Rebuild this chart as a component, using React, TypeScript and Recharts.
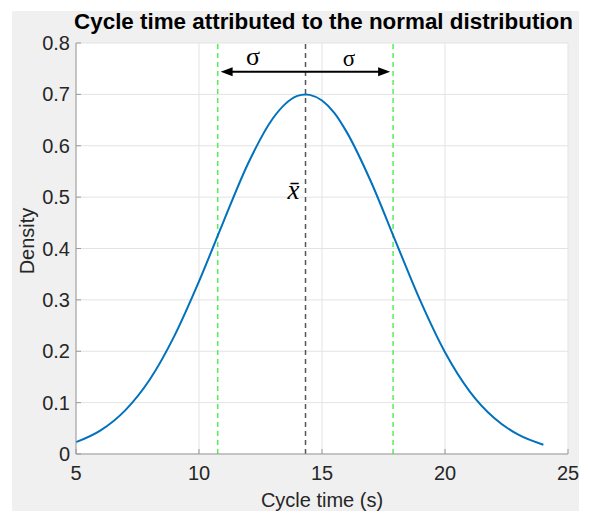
import React from "react";
import {
  LineChart,
  Line,
  XAxis,
  YAxis,
  CartesianGrid,
  ReferenceLine,
  ReferenceDot,
} from "recharts";

// values
const cycleTime = [5, 6, 7, 8, 9, 10, 11, 12, 13, 13.5, 14, 14.33, 14.5, 15, 15.5, 16, 17, 18, 19, 20, 21, 22, 23, 24];
const density = [0.023, 0.046, 0.085, 0.145, 0.23, 0.336, 0.453, 0.566, 0.653, 0.681, 0.697, 0.7, 0.699, 0.688, 0.664, 0.627, 0.529, 0.413, 0.298, 0.198, 0.122, 0.07, 0.037, 0.018];

const xTicks = [5, 10, 15, 20, 25];
const yTicks = [0, 0.1, 0.2, 0.3, 0.4, 0.5, 0.6, 0.7, 0.8];

const meanX = 14.33;
const sigmaLines = [10.76, 17.89];
const arrowSpan = [10.88, 17.77];
const arrowY = 0.744;
const sigmaLabels = [
  { x: 12.2, y: 0.773, text: "σ", size: 26 },
  { x: 16.1, y: 0.769, text: "σ", size: 23 },
];
const meanLabel = { x: 13.84, y: 0.514, text: "x\u0304" };

const chartData = cycleTime.map((t, i) => ({ t, d: density[i] }));

const TEXT = "#262626";
const AXIS = "#9a9a9a";
const FONT = "'Liberation Sans', Arial, sans-serif";
const SERIF = "'Liberation Serif', 'DejaVu Serif', serif";

const BottomTick = (props: any) => {
  const { x, y, payload } = props;
  return (
    <g>
      <line x1={x} x2={x} y1={y} y2={y - 5} stroke={AXIS} />
      <text x={x} y={y + 26} textAnchor="middle" fill={TEXT} fontSize={20} fontFamily={FONT}>
        {payload.value}
      </text>
    </g>
  );
};

const LeftTick = (props: any) => {
  const { x, y, payload } = props;
  return (
    <g>
      <line x1={x} x2={x + 5} y1={y} y2={y} stroke={AXIS} />
      <text x={x - 6} y={y + 7} textAnchor="end" fill={TEXT} fontSize={20} fontFamily={FONT}>
        {payload.value}
      </text>
    </g>
  );
};

const TopTick = (props: any) => {
  const { x, y } = props;
  return <line x1={x} x2={x} y1={y} y2={y + 5} stroke={AXIS} />;
};

const RightTick = (props: any) => {
  const { x, y } = props;
  return <line x1={x} x2={x - 5} y1={y} y2={y} stroke={AXIS} />;
};

const DoubleArrow = (props: any) => {
  const { x1, x2, y1 } = props;
  const head = 12;
  const half = 4.5;
  return (
    <g>
      <line x1={x1 + head - 2} x2={x2 - head + 2} y1={y1} y2={y1} stroke="#000" strokeWidth={2.2} />
      <polygon points={`${x1},${y1} ${x1 + head},${y1 - half} ${x1 + head},${y1 + half}`} fill="#000" />
      <polygon points={`${x2},${y1} ${x2 - head},${y1 - half} ${x2 - head},${y1 + half}`} fill="#000" />
    </g>
  );
};

export default function App() {
  return (
    <div style={{ position: "absolute", left: 0, top: 0, width: 589, height: 511, background: "#fff", overflow: "hidden" }}>
      <div style={{ position: "absolute", left: 12, top: 11, width: 567, height: 500, background: "#f0f0f0" }} />
      <div
        style={{
          position: "absolute",
          left: 0,
          top: 10,
          width: 589,
          textAlign: "center",
          paddingLeft: 58,
          boxSizing: "border-box",
          fontFamily: FONT,
          fontWeight: "bold",
          fontSize: 22.4,
          lineHeight: "24px",
          color: "#000",
          whiteSpace: "nowrap",
        }}
      >
        Cycle time attributed to the normal distribution
      </div>
      <div style={{ position: "absolute", left: 0, top: 0 }}>
        <LineChart width={589} height={511} data={chartData} margin={{ top: 43, right: 21, left: 16, bottom: 0 }}>
          <CartesianGrid stroke="#e3e3e3" fill="#fff" horizontalValues={yTicks} verticalValues={xTicks} />
          <XAxis
            dataKey="t"
            type="number"
            domain={[5, 25]}
            ticks={xTicks}
            interval={0}
            height={57}
            tickSize={0}
            tickMargin={0}
            tickLine={false}
            stroke={AXIS}
            tick={<BottomTick />}
            label={{
              content: (p: any) => (
                <text
                  x={p.viewBox.x + p.viewBox.width / 2}
                  y={507}
                  textAnchor="middle"
                  fill={TEXT}
                  fontSize={20}
                  fontFamily={FONT}
                >
                  Cycle time (s)
                </text>
              ),
            }}
          />
          <XAxis
            xAxisId="top"
            orientation="top"
            dataKey="t"
            type="number"
            domain={[5, 25]}
            ticks={xTicks}
            interval={0}
            height={0}
            tickSize={0}
            tickMargin={0}
            tickLine={false}
            stroke={AXIS}
            tick={<TopTick />}
          />
          <YAxis
            type="number"
            domain={[0, 0.8]}
            ticks={yTicks}
            interval={0}
            width={60}
            tickSize={0}
            tickMargin={0}
            tickLine={false}
            stroke={AXIS}
            tick={<LeftTick />}
            label={{
              content: () => (
                <text
                  x={27}
                  y={241}
                  transform="rotate(-90, 27, 241)"
                  textAnchor="middle"
                  dominantBaseline="central"
                  fill={TEXT}
                  fontSize={20}
                  fontFamily={FONT}
                >
                  Density
                </text>
              ),
            }}
          />
          <YAxis
            yAxisId="right"
            orientation="right"
            type="number"
            domain={[0, 0.8]}
            ticks={yTicks}
            interval={0}
            width={0}
            tickSize={0}
            tickMargin={0}
            tickLine={false}
            stroke={AXIS}
            tick={<RightTick />}
          />
          {sigmaLines.map((v) => (
            <ReferenceLine key={v} x={v} stroke="#55ee55" strokeWidth={1.5} strokeDasharray="5 4" />
          ))}
          <ReferenceLine x={meanX} stroke="#555" strokeWidth={1.5} strokeDasharray="5 4" />
          <Line
            type="monotone"
            dataKey="d"
            stroke="#0072BD"
            strokeWidth={2}
            dot={false}
            isAnimationActive={false}
          />
          <ReferenceLine
            segment={[
              { x: arrowSpan[0], y: arrowY },
              { x: arrowSpan[1], y: arrowY },
            ]}
            shape={(p: any) => <DoubleArrow {...p} />}
          />
          {sigmaLabels.map((s, i) => (
            <ReferenceDot
              key={i}
              x={s.x}
              y={s.y}
              r={1}
              shape={(p: any) => (
                <text
                  x={p.cx}
                  y={p.cy}
                  textAnchor="middle"
                  dominantBaseline="central"
                  fontSize={s.size}
                  fontFamily={SERIF}
                  fill="#000"
                >
                  {s.text}
                </text>
              )}
            />
          ))}
          <ReferenceDot
            x={meanLabel.x}
            y={meanLabel.y}
            r={1}
            shape={(p: any) => (
              <text
                x={p.cx}
                y={p.cy}
                textAnchor="middle"
                dominantBaseline="central"
                fontSize={27}
                fontStyle="italic"
                fontFamily={SERIF}
                fill="#000"
              >
                {meanLabel.text}
              </text>
            )}
          />
        </LineChart>
      </div>
    </div>
  );
}
